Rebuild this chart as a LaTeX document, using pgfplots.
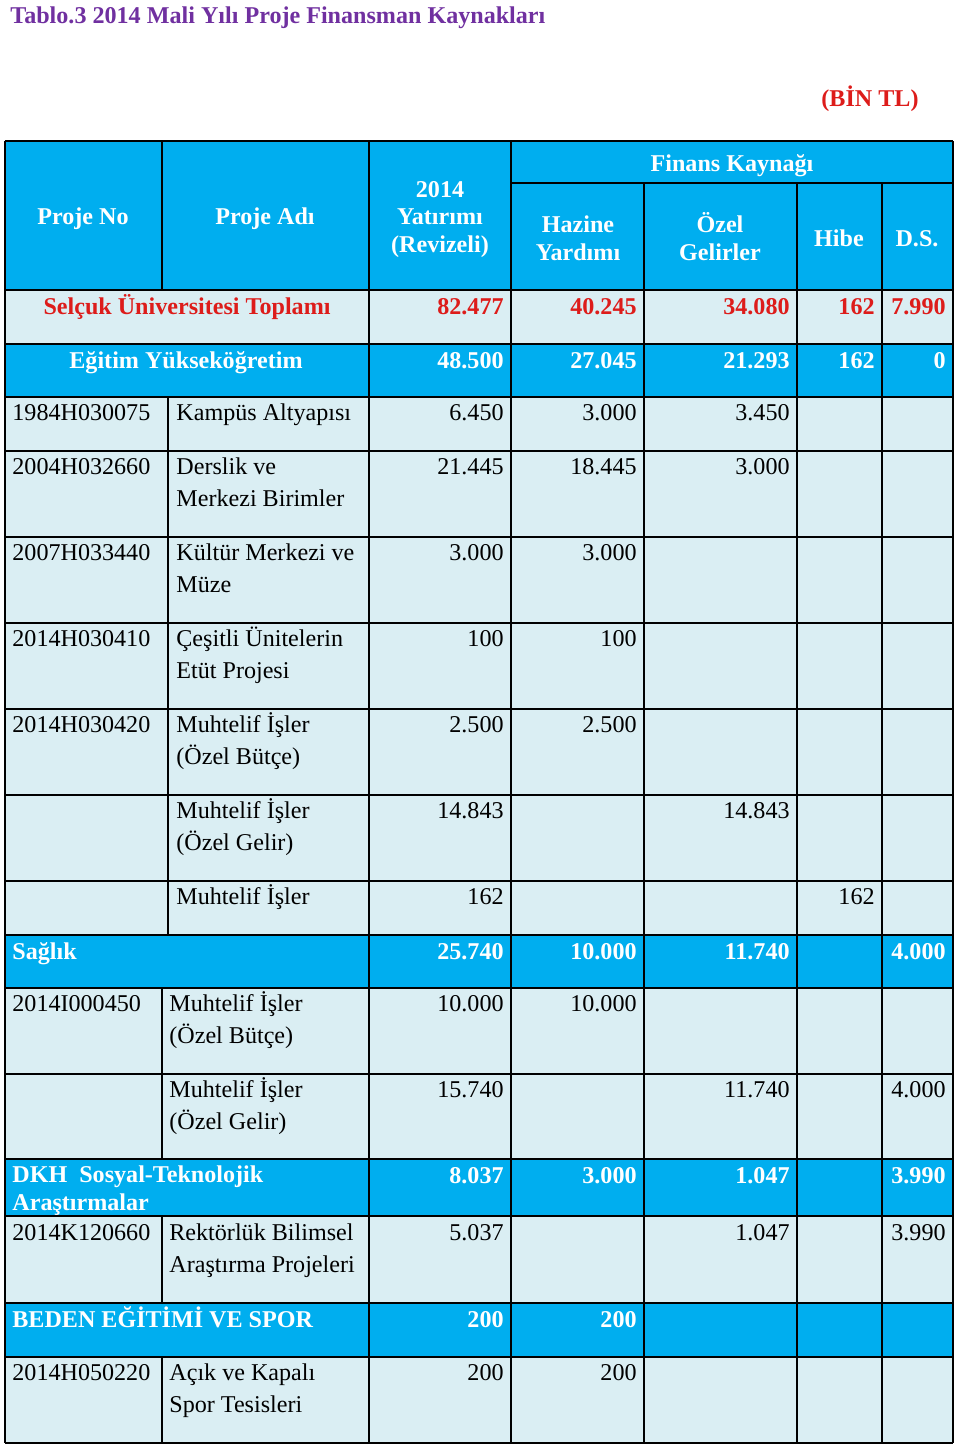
\documentclass[border=0pt]{standalone}
\usepackage{pgfplots}
\usepackage{pgfplotstable}
\pgfplotsset{compat=1.18}
\usepackage{fontspec}
\setmainfont{Liberation Serif}
\usepackage{xcolor}
\definecolor{hdr}{HTML}{00AEEF}
\definecolor{lite}{HTML}{DAEEF3}
\definecolor{rd}{HTML}{DD1C1A}
\definecolor{purp}{HTML}{7030A0}
\newcommand\tf{\fontsize{12.05}{16}\selectfont}

% x = right edge of text, y = baseline (pixels from top)
\pgfplotstableread{
x y lbl
504 314 82.477
637 314 40.245
790 314 34.080
875 314 162
946 314 7.990
}\toplam
\pgfplotstableread{
x y lbl
504 368 48.500
637 368 27.045
790 368 21.293
875 368 162
946 368 0
504 959 25.740
637 959 10.000
790 959 11.740
946 959 4.000
504 1183 8.037
637 1183 3.000
790 1183 1.047
946 1183 3.990
504 1327 200
637 1327 200
}\bolum
\pgfplotstableread{
x y lbl
504 420 6.450
637 420 3.000
790 420 3.450
504 474 21.445
637 474 18.445
790 474 3.000
504 560 3.000
637 560 3.000
504 646 100
637 646 100
504 732 2.500
637 732 2.500
504 818 14.843
790 818 14.843
504 904 162
875 904 162
504 1011 10.000
637 1011 10.000
504 1097 15.740
790 1097 11.740
946 1097 4.000
504 1240 5.037
790 1240 1.047
946 1240 3.990
504 1380 200
637 1380 200
}\satir

\begin{document}
\begin{tikzpicture}
\begin{axis}[
  width=480pt, height=723.5pt, scale only axis,
  xmin=0, xmax=960, ymin=0, ymax=1447, y dir=reverse,
  hide axis, clip=false
]
\path (0,0) rectangle (960,1447);

% cell backgrounds
\fill[hdr] (5,141) rectangle (953,290);
\fill[lite] (5,290) rectangle (953,344);
\fill[hdr] (5,344) rectangle (953,397);
\fill[lite] (5,397) rectangle (953,935);
\fill[hdr] (5,935) rectangle (953,988);
\fill[lite] (5,988) rectangle (953,1159);
\fill[hdr] (5,1159) rectangle (953,1216);
\fill[lite] (5,1216) rectangle (953,1303);
\fill[hdr] (5,1303) rectangle (953,1357);
\fill[lite] (5,1357) rectangle (953,1443);

% grid
\pgfplotsinvokeforeach{141,290,344,397,451,537,623,709,795,881,935,988,1074,1159,1216,1303,1357,1443}{
  \draw[line width=1.2pt] (5,#1) -- (953,#1);
}
\draw[line width=1.2pt] (511,183) -- (953,183);
\pgfplotsinvokeforeach{5,369,511,953}{
  \draw[line width=1.2pt] (#1,141) -- (#1,1443);
}
\pgfplotsinvokeforeach{644,797,882}{
  \draw[line width=1.2pt] (#1,183) -- (#1,1443);
}
\draw[line width=1.2pt] (162,141) -- (162,290);
\draw[line width=1.2pt] (168,397) -- (168,935);
\draw[line width=1.2pt] (162,988) -- (162,1159);
\draw[line width=1.2pt] (162,1216) -- (162,1303);
\draw[line width=1.2pt] (162,1357) -- (162,1443);

% title
\node[anchor=base west, font=\tf\bfseries, text=purp, inner sep=0pt] at (10,23) {Tablo.3 2014 Mali Yılı Proje Finansman Kaynakları};
\node[anchor=base, font=\tf\bfseries, text=rd, inner sep=0pt] at (870,106) {(BİN TL)};

% header
\begin{scope}[every node/.style={anchor=base, font=\tf\bfseries, text=white, inner sep=0pt}]
\node at (83,224) {Proje No};
\node at (265,224) {Proje Adı};
\node at (440,197) {2014};
\node at (440,224) {Yatırımı};
\node at (440,252) {(Revizeli)};
\node at (732,171) {Finans Kaynağı};
\node at (578,232) {Hazine};
\node at (578,260) {Yardımı};
\node at (720,232) {Özel};
\node at (720,260) {Gelirler};
\node at (839,246) {Hibe};
\node at (917,246) {D.S.};
\end{scope}

% group rows
\node[anchor=base, font=\tf\bfseries, text=rd, inner sep=0pt] at (187,314) {Selçuk Üniversitesi Toplamı};
\begin{scope}[every node/.style={font=\tf\bfseries, text=white, inner sep=0pt}]
\node[anchor=base] at (186,368) {Eğitim Yükseköğretim};
\node[anchor=base west] at (12,959) {Sağlık};
\node[anchor=base west] at (12,1182) {DKH\ \ Sosyal-Teknolojik};
\node[anchor=base west] at (12,1210) {Araştırmalar};
\node[anchor=base west] at (12,1327) {BEDEN EĞİTİMİ VE SPOR};
\end{scope}

% project rows
\begin{scope}[every node/.style={anchor=base west, font=\tf, text=black, inner sep=0pt}]
\node at (12,420) {1984H030075};
\node at (12,474) {2004H032660};
\node at (12,560) {2007H033440};
\node at (12,646) {2014H030410};
\node at (12,732) {2014H030420};
\node at (12,1011) {2014I000450};
\node at (12,1240) {2014K120660};
\node at (12,1380) {2014H050220};
\node at (176,420) {Kampüs Altyapısı};
\node at (176,474) {Derslik ve};
\node at (176,506) {Merkezi Birimler};
\node at (176,560) {Kültür Merkezi ve};
\node at (176,592) {Müze};
\node at (176,646) {Çeşitli Ünitelerin};
\node at (176,678) {Etüt Projesi};
\node at (176,732) {Muhtelif İşler};
\node at (176,764) {(Özel Bütçe)};
\node at (176,818) {Muhtelif İşler};
\node at (176,850) {(Özel Gelir)};
\node at (176,904) {Muhtelif İşler};
\node at (169,1011) {Muhtelif İşler};
\node at (169,1043) {(Özel Bütçe)};
\node at (169,1097) {Muhtelif İşler};
\node at (169,1129) {(Özel Gelir)};
\node at (169,1240) {Rektörlük Bilimsel};
\node at (169,1272) {Araştırma Projeleri};
\node at (169,1380) {Açık ve Kapalı};
\node at (169,1412) {Spor Tesisleri};
\end{scope}

% amounts
\addplot[draw=none, mark=none, nodes near coords, point meta=explicit symbolic,
  nodes near coords style={anchor=base east, inner sep=0pt, font=\tf\bfseries, text=rd}]
  table[x=x, y=y, meta=lbl] {\toplam};
\addplot[draw=none, mark=none, nodes near coords, point meta=explicit symbolic,
  nodes near coords style={anchor=base east, inner sep=0pt, font=\tf\bfseries, text=white}]
  table[x=x, y=y, meta=lbl] {\bolum};
\addplot[draw=none, mark=none, nodes near coords, point meta=explicit symbolic,
  nodes near coords style={anchor=base east, inner sep=0pt, font=\tf, text=black}]
  table[x=x, y=y, meta=lbl] {\satir};
\end{axis}
\end{tikzpicture}
\end{document}
